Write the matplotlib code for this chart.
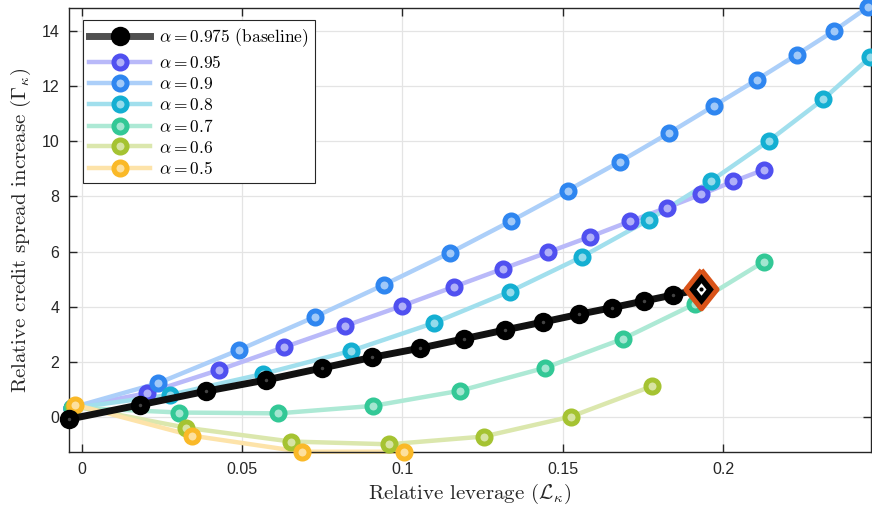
import matplotlib
matplotlib.use("Agg")
import matplotlib.pyplot as plt
from matplotlib.colors import to_rgb
from matplotlib.lines import Line2D

plt.rcParams['mathtext.fontset'] = 'cm'
plt.rcParams['font.family'] = ['Liberation Sans', 'DejaVu Sans']

# leverage (x) and spread increase (y) per alpha
x_0975 = [-0.004, 0.0182, 0.0387, 0.0575, 0.0749, 0.0906, 0.1055, 0.1192, 0.1320, 0.1440, 0.1552, 0.1655, 0.1754, 0.1845, 0.1932]
y_0975 = [-0.07, 0.45, 0.94, 1.35, 1.78, 2.17, 2.50, 2.84, 3.16, 3.45, 3.73, 3.97, 4.21, 4.43, 4.64]

x_095 = [-0.003, 0.0203, 0.0427, 0.0632, 0.0822, 0.0998, 0.1162, 0.1314, 0.1455, 0.1586, 0.1709, 0.1825, 0.1932, 0.2032, 0.2127]
y_095 = [0.35, 0.87, 1.71, 2.54, 3.31, 4.03, 4.73, 5.38, 5.98, 6.54, 7.09, 7.59, 8.07, 8.54, 8.96]

x_09 = [-0.003, 0.0237, 0.0491, 0.0726, 0.0943, 0.1149, 0.1338, 0.1515, 0.1679, 0.1831, 0.1972, 0.2105, 0.2230, 0.2347, 0.2453]
y_09 = [0.35, 1.23, 2.44, 3.63, 4.80, 5.96, 7.10, 8.21, 9.26, 10.29, 11.28, 12.22, 13.13, 14.00, 14.86]

x_08 = [-0.003, 0.0275, 0.0566, 0.0839, 0.1097, 0.1335, 0.1560, 0.1769, 0.1963, 0.2144, 0.2312, 0.2459]
y_08 = [0.33, 0.81, 1.57, 2.40, 3.41, 4.55, 5.81, 7.15, 8.56, 10.02, 11.51, 13.04]

x_07 = [-0.003, 0.0304, 0.0613, 0.0908, 0.1180, 0.1445, 0.1688, 0.1913, 0.2127]
y_07 = [0.35, 0.17, 0.14, 0.41, 0.96, 1.79, 2.84, 4.11, 5.63]

x_06 = [-0.0025, 0.0325, 0.0652, 0.0959, 0.1253, 0.1525, 0.1780]
y_06 = [0.40, -0.38, -0.88, -0.98, -0.70, 0.02, 1.13]

x_05 = [-0.002, 0.0345, 0.0686, 0.1006]
y_05 = [0.45, -0.67, -1.25, -1.25]

labels = [r'$\alpha = 0.95$', r'$\alpha = 0.9$', r'$\alpha = 0.8$',
          r'$\alpha = 0.7$', r'$\alpha = 0.6$', r'$\alpha = 0.5$']
colors = ['#5050F0', '#2F86F0', '#14AFD2', '#33C896', '#A5C332', '#FAB928']
series = [(x_095, y_095), (x_09, y_09), (x_08, y_08),
          (x_07, y_07), (x_06, y_06), (x_05, y_05)]


def mix(c, a):
    r, g, b = to_rgb(c)
    return (1 - a + a * r, 1 - a + a * g, 1 - a + a * b)


fig = plt.figure(figsize=(8.72, 5.14), dpi=100)
ax = fig.add_axes([0.0791, 0.1206, 0.9199, 0.8638])

handles = []
for (xs, ys), c, lab in zip(series, colors, labels):
    ax.plot(xs, ys, color=mix(c, 0.4), lw=3.2, zorder=2, clip_on=False)
    ax.plot(xs, ys, ls='none', marker='o', ms=9.4, mew=3.6,
            mec=c, mfc=mix(c, 0.45), zorder=3, clip_on=False)
    handles.append(Line2D([], [], color=mix(c, 0.4), lw=3.2, marker='o',
                          ms=9.4, mew=3.6, mec=c, mfc=mix(c, 0.45)))

# baseline
ax.plot(x_0975, y_0975, color='#111111', lw=5, zorder=4, clip_on=False)
ax.plot(x_0975, y_0975, ls='none', marker='o', ms=14, mew=0,
        mfc='black', zorder=5, clip_on=False)
ax.plot(x_0975, y_0975, ls='none', marker='o', ms=2.5, mew=0,
        mfc='#444444', zorder=6, clip_on=False)
base_h = Line2D([], [], color='#505050', lw=5, marker='o', ms=14,
                mew=0, mfc='black')
handles.insert(0, base_h)
labels.insert(0, r'$\alpha = 0.975$ (baseline)')

# highlighted point (tall diamond)
tall_d = [(0, 1), (0.8, 0), (0, -1), (-0.8, 0), (0, 1)]
ax.plot(x_0975[-1], y_0975[-1], marker=tall_d, ms=28, mew=3.6,
        mec='#D95319', mfc='black', ls='none', zorder=7, clip_on=False)
ax.plot(x_0975[-1], y_0975[-1], marker=tall_d, ms=9, mew=0,
        mfc='white', ls='none', zorder=8, clip_on=False)
ax.plot(x_0975[-1], y_0975[-1], marker='o', ms=3, mew=0,
        mfc='black', ls='none', zorder=9, clip_on=False)

ax.set_xlim(-0.004, 0.2462)
ax.set_ylim(-1.26, 14.82)
ax.set_xticks([0, 0.05, 0.1, 0.15, 0.2])
ax.set_xticklabels(['0', '0.05', '0.1', '0.15', '0.2'])
ax.set_yticks(range(0, 15, 2))
ax.tick_params(direction='in', length=6, width=1, labelsize=11.5,
               top=True, right=True, colors='#262626', pad=7)
for s in ax.spines.values():
    s.set_color('#262626')
    s.set_linewidth(1)
ax.grid(True, color='#e4e4e4', lw=0.9)
ax.set_axisbelow(True)

ax.set_xlabel(r'Relative leverage ($\mathcal{L}_\kappa$)', family='cmr10',
              fontsize=15, color='#262626', labelpad=4)
ax.set_ylabel(r'Relative credit spread increase ($\Gamma_\kappa$)',
              family='cmr10', fontsize=15, color='#262626', labelpad=6)

leg = ax.legend(handles, labels, loc='upper left', bbox_to_anchor=(0.018, 0.972),
                prop={'family': 'cmr10', 'size': 12.5}, handlelength=3.5,
                fancybox=False, edgecolor='#262626', framealpha=1,
                borderpad=0.35, labelspacing=0.28, handletextpad=0.5,
                borderaxespad=0)
leg.get_frame().set_linewidth(0.8)
leg.set_zorder(20)

fig.savefig('out.png', dpi=100)
